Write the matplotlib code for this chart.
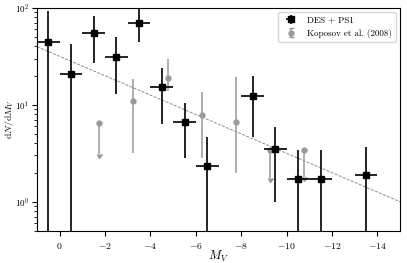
import matplotlib
matplotlib.use("Agg")
import matplotlib.pyplot as plt
import numpy as np

plt.rcParams['font.family'] = 'serif'
plt.rcParams['font.serif'] = ['cmr10', 'DejaVu Serif']
plt.rcParams['mathtext.fontset'] = 'cm'
plt.rcParams['axes.formatter.use_mathtext'] = True
plt.rcParams['font.size'] = 7

# DES + PS1 luminosity function (bin centre, value, error bar ends)
des_mv = [0.5, -0.5, -1.5, -2.5, -3.5, -4.5, -5.5, -6.5, -8.5, -9.5, -10.5, -11.5, -13.5]
des_n = [45, 21, 55, 31.5, 70, 15.3, 6.7, 2.35, 12.4, 3.5, 1.73, 1.73, 1.9]
des_hi = [93, 42, 83, 50, 110, 24, 10.5, 4.7, 20, 5.9, 3.4, 3.4, 3.7]
des_lo = [0.1, 0.1, 27, 13, 44, 6.3, 2.8, 0.1, 4.7, 1.0, 0.1, 0.1, 0.1]
des_binw = 0.5

# Koposov et al. (2008): measurements
kop_mv = [-3.25, -4.75, -6.25, -7.75]
kop_n = [11, 19, 7.9, 6.7]
kop_hi = [18.6, 30, 13.6, 19.4]
kop_lo = [3.2, 14, 2.8, 2.0]
# Koposov et al. (2008): upper limits
kop_ul_mv = [-1.75, -9.25, -10.75]
kop_ul_n = [6.5, 3.4, 3.4]
kop_ul_lo = [3.1, 1.75, 1.8]

# power-law fit end points
fit_mv = [1, -15]
fit_n = [39.8, 1.0]

des_n = np.array(des_n)
kop_n = np.array(kop_n)
kop_ul_n = np.array(kop_ul_n)
des_err = [des_n - np.array(des_lo), np.array(des_hi) - des_n]
kop_err = [kop_n - np.array(kop_lo), np.array(kop_hi) - kop_n]
kop_ul_err = [kop_ul_n - np.array(kop_ul_lo), np.zeros(len(kop_ul_n))]

fig = plt.figure(figsize=(4.07, 2.63), dpi=100)
ax = fig.add_axes([0.091, 0.122, 0.892, 0.848])

ax.plot(fit_mv, fit_n, ls='--', color='0.55', lw=0.7, dashes=(3, 1.5))
ax.errorbar(kop_mv, kop_n, yerr=kop_err, fmt='o', color='0.6', ms=3.5,
            elinewidth=1.1, capsize=0, zorder=2)
ax.errorbar(kop_ul_mv, kop_ul_n, yerr=kop_ul_err, uplims=True, fmt='o',
            color='0.6', ms=3.5, elinewidth=1.1, capsize=1.8,
            label='Koposov et al. (2008)', zorder=2)
ax.errorbar(des_mv, des_n, yerr=des_err, xerr=des_binw, fmt='s',
            color='k', ms=5, elinewidth=1.2, capsize=0,
            label='DES + PS1', zorder=3)

ax.set_yscale('log')
ax.set_xlim(1, -15)
ax.set_ylim(0.5, 100)
ax.tick_params(axis='y', labelsize=6.5, pad=2)
ax.set_xlabel(r'$M_V$', fontsize=9, labelpad=-1)
ax.set_ylabel(r'$\mathrm{d}N/\mathrm{d}M_V$', fontsize=7)
ax.yaxis.set_label_coords(-0.058, 0.5)

h, l = ax.get_legend_handles_labels()
ax.legend(h[::-1], l[::-1], loc='upper right', fontsize=6.5)

fig.savefig('out.png', dpi=100)
